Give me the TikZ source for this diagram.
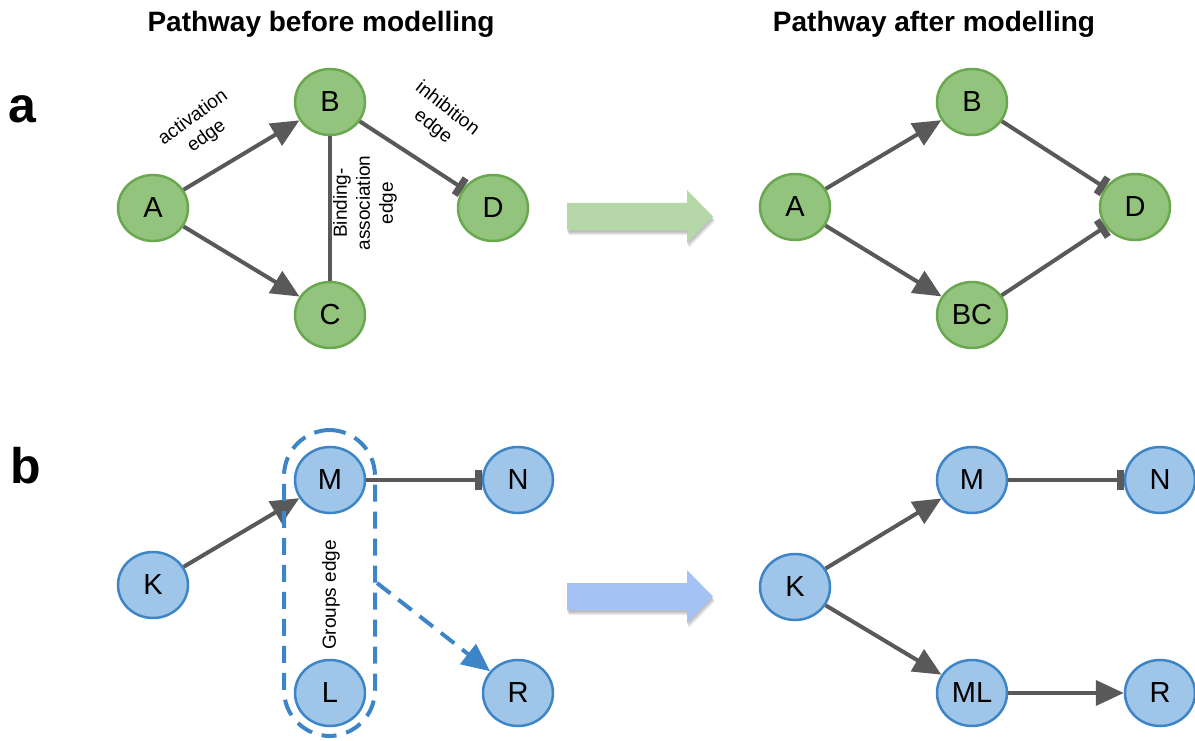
\documentclass[tikz,border=0pt]{standalone}
\usepackage{fontspec}
\setmainfont{Liberation Sans}
\usetikzlibrary{arrows.meta,shapes.geometric}

\definecolor{gfill}{HTML}{93C47D}
\definecolor{gline}{HTML}{6AA84F}
\definecolor{bfill}{HTML}{9FC5E8}
\definecolor{bline}{HTML}{3D85C6}
\definecolor{edgegray}{HTML}{595959}
\definecolor{garrow}{HTML}{B6D7A8}
\definecolor{barrow}{HTML}{A4C2F4}

\begin{document}
\begin{tikzpicture}[x=1pt,y=-1pt,
  every node/.style={inner sep=0pt},
  species/.style={ellipse, line width=2.5pt, minimum width=70pt, minimum height=66pt,
    font=\fontsize{29}{31}\selectfont},
  gnode/.style={species, draw=gline, fill=gfill},
  bnode/.style={species, draw=bline, fill=bfill},
  act/.style={draw=edgegray, line width=4pt, -{Triangle[length=28pt,width=25pt]}},
  inh/.style={draw=edgegray, line width=4pt, -{Rectangle[length=7pt,width=20pt]}},
  bind/.style={draw=edgegray, line width=4pt},
  elabel/.style={font=\fontsize{19}{23}\selectfont, align=center},
  title/.style={font=\bfseries\fontsize{28}{32}\selectfont, anchor=base},
  panel/.style={font=\bfseries\fontsize{50}{50}\selectfont, anchor=base west},
  group/.style={draw=bline, line width=4pt, dash pattern=on 17pt off 10pt,
    rounded corners=46pt, minimum width=91pt, minimum height=306pt},
  dasharrow/.style={draw=bline, line width=4pt, dash pattern=on 17pt off 10pt,
    -{Triangle[length=28pt,width=25pt]}},
  pics/fatarrow/.style={code={
    \fill[#1] (0,-13.5) -- (120,-13.5) -- (120,-26.5) -- (146,0) -- (120,26.5)
      -- (120,13.5) -- (0,13.5) -- cycle;}},
]
\useasboundingbox (0,0) rectangle (1195,741);

% headings and panel letters
\node[title] (t1) at (321,32) {Pathway before modelling};
\node[title] (t2) at (934,32) {Pathway after modelling};
\node[panel] (pa) at (8,123) {a};
\node[panel] (pb) at (10,483) {b};

% ---- panel a, before ----
\node[gnode] (A) at (153,208) {A};
\node[gnode] (B) at (330,102) {B};
\node[gnode] (C) at (330,315) {C};
\node[gnode] (D) at (493,208) {D};
\draw[act] (A) -- (B);
\draw[act] (A) -- (C);
\draw[bind] (B) -- (C);
\draw[inh] (B) -- (D);
\node[elabel, rotate=36] (la) at (200,127) {activation\\edge};
\node[elabel, rotate=-38] (li) at (440,118) {inhibition\\edge};
\node[elabel, rotate=90] (lb) at (365,203) {Binding-\\association\\edge};

% ---- panel a, after ----
\node[gnode] (A2) at (795,207) {A};
\node[gnode] (B2) at (972,102) {B};
\node[gnode] (BC) at (972,315) {BC};
\node[gnode] (D2) at (1135,207) {D};
\draw[act] (A2) -- (B2);
\draw[act] (A2) -- (BC);
\draw[inh] (B2) -- (D2);
\draw[inh] (BC) -- (D2);

% ---- panel b, before ----
\node[bnode] (K) at (153,585) {K};
\node[bnode] (M) at (330,480) {M};
\node[bnode] (N) at (518,480) {N};
\node[bnode] (L) at (330,693) {L};
\node[bnode] (R) at (518,693) {R};
\draw[act] (K) -- (M);
\draw[inh] (M) -- (N);
\node[group] (grp) at (329.5,583) {};
\draw[dasharrow] (grp.east) -- (R);
\node[elabel, rotate=90] (lg) at (331,595) {Groups edge};

% ---- panel b, after ----
\node[bnode] (K2) at (795,587) {K};
\node[bnode] (M2) at (972,480) {M};
\node[bnode] (N2) at (1160,480) {N};
\node[bnode] (ML) at (972,693) {ML};
\node[bnode] (R2) at (1160,693) {R};
\draw[act] (K2) -- (M2);
\draw[act] (K2) -- (ML);
\draw[inh] (M2) -- (N2);
\draw[act] (ML) -- (R2);

% ---- transition arrows with soft shadows ----
\foreach \dx/\dy in {0/2, 1/3, 1/4, 2/5} {
  \pic[opacity=0.07] at (567+\dx,216.5+\dy) {fatarrow=black};
  \pic[opacity=0.07] at (567+\dx,596.5+\dy) {fatarrow=black};
}
\pic at (567,216.5) {fatarrow=garrow};
\pic at (567,596.5) {fatarrow=barrow};
\end{tikzpicture}
\end{document}
